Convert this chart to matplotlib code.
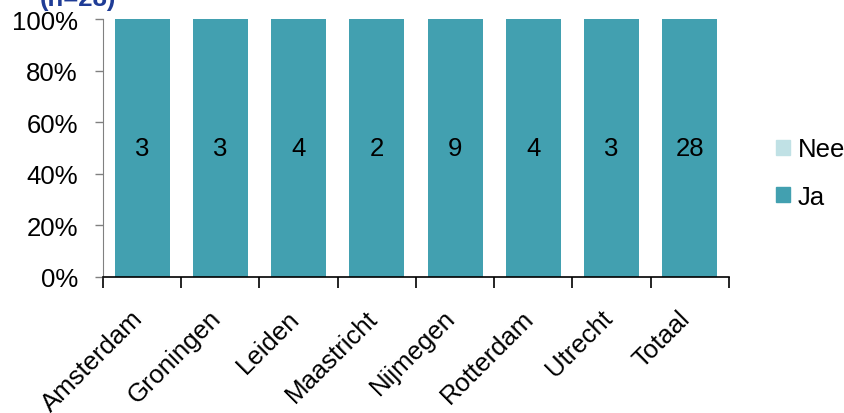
import matplotlib
matplotlib.use("Agg")
import matplotlib.pyplot as plt
from matplotlib.patches import Patch

categories = ["Amsterdam", "Groningen", "Leiden", "Maastricht", "Nijmegen", "Rotterdam", "Utrecht", "Totaal"]
ja_counts = [3, 3, 4, 2, 9, 4, 3, 28]
nee_counts = [0, 0, 0, 0, 0, 0, 0, 0]
yticks = [0, 20, 40, 60, 80, 100]
title = "(n=28)"

plt.rcParams['font.family'] = ['Liberation Sans', 'DejaVu Sans']
fs = 18.5

fig = plt.figure(figsize=(8.45, 4.14), dpi=100)
ax = fig.add_axes([103/845, 1-278/414, 626/845, 258/414])

ja_color = "#42A0B0"
nee_color = "#C0E1E5"

x = list(range(len(categories)))
totals = [j + n for j, n in zip(ja_counts, nee_counts)]
ja_pct = [100*j/t for j, t in zip(ja_counts, totals)]
nee_pct = [100*n/t for n, t in zip(nee_counts, totals)]

ax.bar(x, ja_pct, width=0.7, color=ja_color)
ax.bar(x, nee_pct, width=0.7, bottom=ja_pct, color=nee_color)
for xi, j, p in zip(x, ja_counts, ja_pct):
    ax.text(xi, p/2, str(j), ha='center', va='center', fontsize=fs, color='black')

ax.set_xlim(-0.5, len(categories)-0.5)
ax.set_ylim(0, 100)
ax.set_yticks(yticks)
ax.set_yticklabels([f"{v}%" for v in yticks], fontsize=fs)
ax.set_xticks([i - 0.5 for i in range(len(categories)+1)])
ax.set_xticklabels([])
ax.tick_params(axis='x', length=8, width=1.2, color='black', direction='out')
ax.tick_params(axis='y', length=6, width=1, color='#808080', direction='out', pad=12)
for xi, c in zip(x, categories):
    ax.text(xi - 0.15, -11, c, rotation=45, ha='right', va='top', fontsize=fs,
            rotation_mode='anchor', transform=ax.transData)

for s in ['top', 'right']:
    ax.spines[s].set_visible(False)
ax.spines['left'].set_color('#808080')
ax.spines['bottom'].set_color('black')
ax.spines['bottom'].set_linewidth(1.2)

handles = [Patch(color=nee_color), Patch(color=ja_color)]
fig.legend(handles, ["Nee", "Ja"], loc='center left', bbox_to_anchor=(776/845, 1-174/414),
           frameon=False, fontsize=fs, handlelength=0.55, handleheight=0.55,
           handletextpad=0.3, labelspacing=0.9, borderpad=0, borderaxespad=0)

fig.text(40/845, 1-6/414, title, fontsize=fs, fontweight='bold', color='#1F3C96',
         ha='left', va='baseline')

fig.savefig("out.png", dpi=100)
